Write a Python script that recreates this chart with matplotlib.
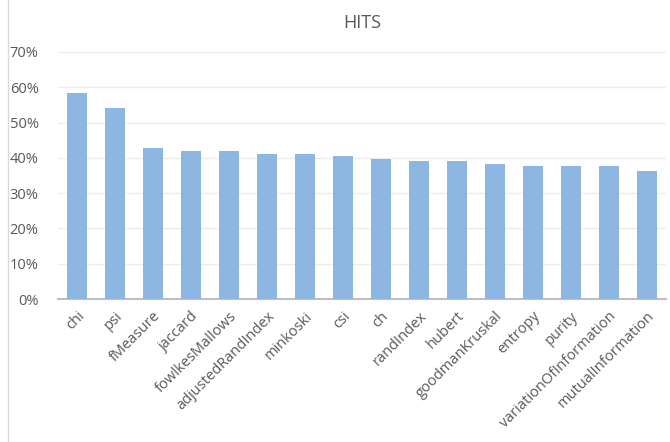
import numpy as np
import matplotlib.pyplot as plt
from matplotlib.ticker import PercentFormatter
from matplotlib.patches import Rectangle

# HITS scores per index
labels = ['chi', 'psi', 'fMeasure', 'jaccard', 'fowlkesMallows', 'adjustedRandIndex',
          'minkoski', 'csi', 'ch', 'randIndex', 'hubert', 'goodmanKruskal',
          'entropy', 'purity', 'variationOfInformation', 'mutualInformation']
hits = [0.583, 0.541, 0.428, 0.419, 0.419, 0.411, 0.411, 0.405,
        0.397, 0.391, 0.391, 0.383, 0.377, 0.377, 0.377, 0.363]

plt.rcParams['font.family'] = ['Open Sans', 'DejaVu Sans']
txt = '#595959'

fig = plt.figure(figsize=(6.7, 4.42), dpi=100)
ax = fig.add_axes([0.0866, 0.3235, 0.9074, 0.5589])

x = np.arange(len(labels))
ax.bar(x, hits, width=0.55, color='#8db7e0', zorder=3)

ax.set_xlim(-0.5, len(labels) - 0.5)
ax.set_ylim(0, 0.7)
ax.set_yticks(np.arange(0, 0.71, 0.1))
ax.yaxis.set_major_formatter(PercentFormatter(1.0, decimals=0))
ax.grid(axis='y', color='#ececec', linewidth=1, zorder=0)

ax.set_xticks(x)
ax.set_xticklabels(labels, rotation=45, ha='right', rotation_mode='anchor',
                   fontsize=10.5, color=txt)
ax.tick_params(axis='x', length=0, pad=7)
ax.tick_params(axis='y', length=0, pad=14, labelsize=10.5, labelcolor=txt)

for s in ['top', 'right', 'left']:
    ax.spines[s].set_visible(False)
ax.spines['bottom'].set_color('#bfbfbf')
ax.spines['bottom'].set_linewidth(1.5)

fig.text(0.54, 0.947, 'HITS', ha='center', va='center', fontsize=13, color=txt)

# chart area border
fig.patches.append(Rectangle((0.012, -0.01), 0.99, 1.02, transform=fig.transFigure,
                             fill=False, edgecolor='#d9d9d9', linewidth=1))

fig.savefig('out.png', dpi=100)
